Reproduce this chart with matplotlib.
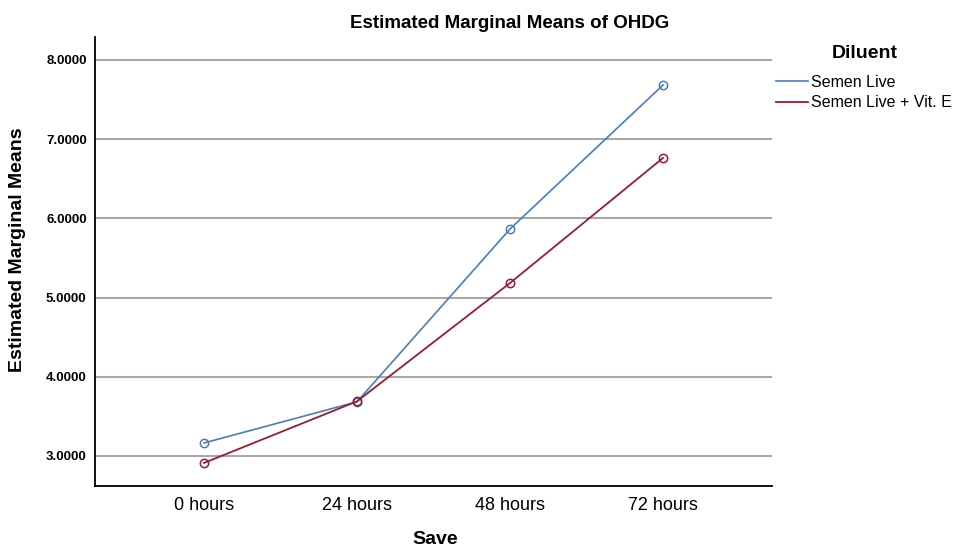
import matplotlib
matplotlib.use("Agg")
import matplotlib.pyplot as plt

# Estimated marginal means of OHDG by storage time and diluent
times = ["0 hours", "24 hours", "48 hours", "72 hours"]
semen_live = [3.164, 3.684, 5.866, 7.684]
semen_live_vit_e = [2.912, 3.690, 5.184, 6.763]
y_ticks = [3.0, 4.0, 5.0, 6.0, 7.0, 8.0]

plt.rcParams["font.family"] = ["Liberation Sans", "DejaVu Sans"]

fig = plt.figure(figsize=(9.54, 5.46), dpi=100)
ax = fig.add_axes([95 / 954, 1 - 486 / 546, (772 - 95) / 954, (486 - 37) / 546])

x = list(range(len(times)))
ax.plot(x, semen_live, color="#4a7ebb", lw=1.2, marker="o", ms=6,
        mfc="none", mec="#4a7ebb", mew=1.1, label="Semen Live", zorder=3)
ax.plot(x, semen_live_vit_e, color="#9e1a30", lw=1.3, marker="o", ms=6,
        mfc="none", mec="#9e1a30", mew=1.1, label="Semen Live + Vit. E", zorder=3)

ax.set_xlim(-0.712, 3.712)
ax.set_ylim(2.621, 8.29)
ax.set_xticks(x)
ax.set_xticklabels(times, fontsize=13)
ax.set_yticks(y_ticks)
ax.set_yticklabels([f"{v:.4f}" for v in y_ticks], fontsize=9.5, fontweight="bold")
ax.tick_params(axis="both", length=0)
ax.tick_params(axis="y", pad=6)
ax.tick_params(axis="x", pad=8)

ax.grid(axis="y", color="#a8a8a8", lw=1.5)
ax.set_axisbelow(True)
for side in ("top", "right"):
    ax.spines[side].set_visible(False)
for side in ("left", "bottom"):
    ax.spines[side].set_color("black")
    ax.spines[side].set_linewidth(1.3)

fig.text(510 / 954, 1 - 23 / 546, "Estimated Marginal Means of OHDG",
         ha="center", va="center", fontsize=13.5, fontweight="bold")
fig.text(18 / 954, 1 - 250 / 546, "Estimated Marginal Means", rotation=90,
         ha="center", va="center", fontsize=14, fontweight="bold")
fig.text(435 / 954, 1 - 539 / 546, "Save", ha="center", va="center",
         fontsize=14, fontweight="bold")

fig.text(865 / 954, 1 - 54 / 546, "Diluent", ha="center", va="center",
         fontsize=14, fontweight="bold")
leg = fig.legend(loc="upper left", bbox_to_anchor=(776 / 954, 1 - 75 / 546),
                 frameon=False, fontsize=11.5, handlelength=2.0, handletextpad=0.2,
                 labelspacing=0.33, borderaxespad=0, borderpad=0)
for h in leg.legend_handles:
    h.set_marker("")

fig.savefig("out.png", dpi=100)
